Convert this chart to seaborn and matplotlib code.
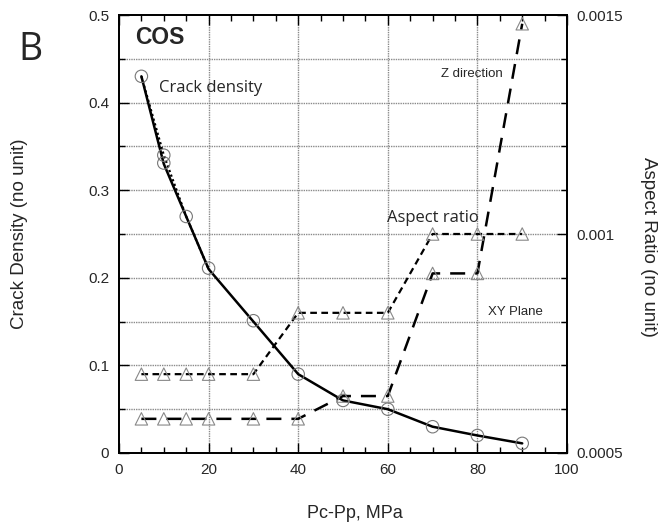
import matplotlib
matplotlib.use("Agg")
import matplotlib.pyplot as plt
import seaborn as sns
import pandas as pd
from matplotlib.ticker import MultipleLocator

# ---- data ----
pressure = [5, 10, 15, 20, 30, 40, 50, 60, 70, 80, 90]
crack_density = [0.43, 0.33, 0.27, 0.21, 0.15, 0.09, 0.06, 0.05, 0.03, 0.02, 0.011]
crack_density_alt_x = [5, 10, 15, 20]
crack_density_alt = [0.43, 0.34, 0.27, 0.21]
crack_pts_x = [5, 10, 10, 15, 20, 30, 40, 50, 60, 70, 80, 90]
crack_pts = [0.43, 0.34, 0.331, 0.27, 0.211, 0.151, 0.09, 0.06, 0.05, 0.03, 0.02, 0.011]

ar_x = [5, 10, 15, 20, 30, 40, 50, 60, 70, 80, 90]
ar_xy = [0.00068, 0.00068, 0.00068, 0.00068, 0.00068, 0.00082, 0.00082, 0.00082, 0.0010, 0.0010, 0.0010]
ar_z = [0.000578, 0.000578, 0.000578, 0.000578, 0.000578, 0.000578, 0.00063, 0.00063, 0.00091, 0.00091, 0.00148]

x_ticks = [0, 20, 40, 60, 80, 100]
x_tick_labels = ["0", "20", "40", "60", "80", "100"]
y_ticks = [0, 0.1, 0.2, 0.3, 0.4, 0.5]
y_tick_labels = ["0", "0.1", "0.2", "0.3", "0.4", "0.5"]
y2_ticks = [0.0005, 0.001, 0.0015]
y2_tick_labels = ["0.0005", "0.001", "0.0015"]

sns.set_style("white")
plt.rcParams['font.family'] = ['Liberation Sans', 'DejaVu Sans']

fig = plt.figure(figsize=(6.7, 5.32), dpi=100)
ax = fig.add_axes([0.1776, 0.1485, 0.8463 - 0.1776, 0.9718 - 0.1485])
ax2 = ax.twinx()

df_c = pd.DataFrame({"x": pressure, "y": crack_density})
df_ca = pd.DataFrame({"x": crack_density_alt_x, "y": crack_density_alt})
df_cp = pd.DataFrame({"x": crack_pts_x, "y": crack_pts})
df_a = pd.DataFrame({"x": ar_x, "xy": ar_xy, "z": ar_z})

# grid
ax.set_xlim(0, 100)
ax.set_ylim(0, 0.5)
for gx in [20, 40, 60, 80]:
    ax.axvline(gx, color="#8a8a8a", lw=1.0, ls=(0, (1, 0.7)), zorder=0)
for gy in [0.05 * i for i in range(1, 10)]:
    ax.axhline(gy, color="#8a8a8a", lw=1.0, ls=(0, (1, 0.7)), zorder=0)

sns.lineplot(data=df_ca, x="x", y="y", ax=ax, color="black", lw=1.6,
             linestyle=(0, (1, 1.2)), sort=False, zorder=3)
sns.lineplot(data=df_c, x="x", y="y", ax=ax, color="black", lw=1.8, sort=False, zorder=3)
sns.scatterplot(data=df_cp, x="x", y="y", ax=ax, marker="o", s=80,
                facecolors="none", edgecolor="#777777", linewidth=0.8, zorder=4)

ax2.set_ylim(0.0005, 0.0015)
sns.lineplot(data=df_a, x="x", y="xy", ax=ax2, color="black", lw=1.6,
             linestyle=(0, (3, 2)), sort=False, zorder=3)
sns.lineplot(data=df_a, x="x", y="z", ax=ax2, color="black", lw=1.8,
             linestyle=(0, (6, 4)), sort=False, zorder=3)
sns.scatterplot(data=df_a, x="x", y="xy", ax=ax2, marker="^", s=80,
                facecolors="none", edgecolor="#888888", linewidth=0.8, zorder=4)
sns.scatterplot(data=df_a, x="x", y="z", ax=ax2, marker="^", s=80,
                facecolors="none", edgecolor="#888888", linewidth=0.8, zorder=4)

# ticks
ax.set_xticks(x_ticks)
ax.set_xticklabels(x_tick_labels)
ax.xaxis.set_minor_locator(MultipleLocator(5))
ax.set_yticks(y_ticks)
ax.set_yticklabels(y_tick_labels)
ax.yaxis.set_minor_locator(MultipleLocator(0.05))
ax2.set_yticks(y2_ticks)
ax2.set_yticklabels(y2_tick_labels)
ax2.yaxis.set_minor_locator(MultipleLocator(0.0001))

ax.tick_params(which="both", direction="in", top=True, right=False, left=True, bottom=True,
               labelsize=11, color="black", pad=7)
ax.tick_params(which="major", length=7, width=1)
ax.tick_params(which="minor", length=4, width=1)
ax2.tick_params(which="both", direction="in", right=True, labelsize=11, color="black", pad=7)
ax2.tick_params(which="major", length=7, width=1)
ax2.tick_params(which="minor", length=4, width=1)

for a in (ax, ax2):
    for sp in a.spines.values():
        sp.set_color("black")
        sp.set_linewidth(1.3)
        sp.set_visible(True)

ax.set_xlabel("")
ax.set_ylabel("")
ax2.set_ylabel("")
fig.text(20 / 670, 0.56, "Crack Density (no unit)", fontsize=13.5, rotation=90,
         ha="center", va="center")
fig.text(649 / 670, 1 - 247 / 532, "Aspect Ratio (no unit)", fontsize=13.5, rotation=270,
         ha="center", va="center")
fig.text(355 / 670, 1 - 513 / 532, "Pc-Pp, MPa", fontsize=13, ha="center", va="center")

# annotations
ax.text(3.6, 0.474, "COS", fontsize=16.5, fontweight="bold", va="center", ha="left")
ax.text(8.9, 0.4167, "Crack density", fontsize=12, va="center", ha="left",
        family=["Open Sans", "DejaVu Sans"])
ax.text(59.8, 0.268, "Aspect ratio", fontsize=12, va="center", ha="left",
        family=["Open Sans", "DejaVu Sans"])
ax.text(71.9, 0.433, "Z direction", fontsize=9.5, va="center", ha="left")
ax.text(82.4, 0.161, "XY Plane", fontsize=9.5, va="center", ha="left")
fig.text(0.027, 0.906, "B", fontsize=27, va="center", ha="left",
         family=["Open Sans", "DejaVu Sans"])

fig.savefig("out.png", dpi=100)
